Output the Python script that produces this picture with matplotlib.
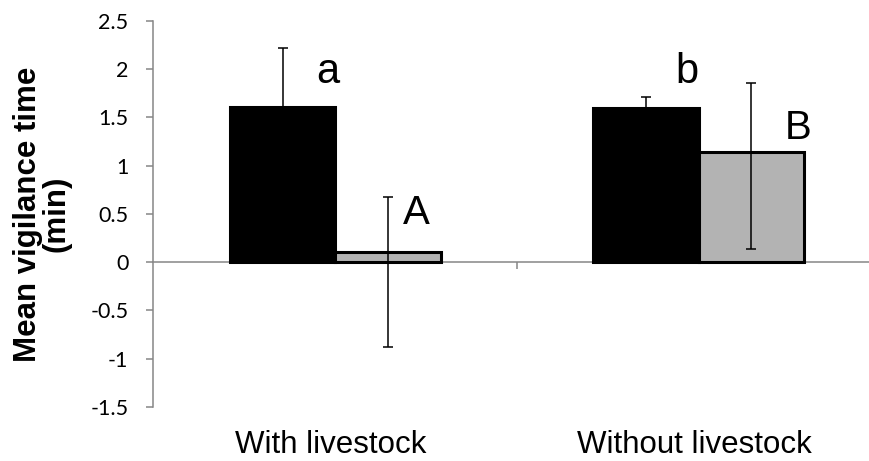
import matplotlib
matplotlib.use('Agg')
import matplotlib.pyplot as plt
import numpy as np
from matplotlib.transforms import blended_transform_factory

# ---- data ----
categories = ['With livestock', 'Without livestock']
black_vals = [1.61, 1.60]
black_err = [0.61, 0.11]
gray_vals = [0.11, 1.14]
gray_err_low = [0.99, 1.00]
gray_err_up = [0.56, 0.72]
letters_black = ['a', 'b']
letters_gray = ['A', 'B']
yticks = [-1.5, -1, -0.5, 0, 0.5, 1, 1.5, 2, 2.5]
ytick_labels = ['-1.5', '-1', '-0.5', '0', '0.5', '1', '1.5', '2', '2.5']
ylabel = 'Mean vigilance time\n(min)'

# ---- layout ----
W, H = 870, 461
fig = plt.figure(figsize=(W / 100, H / 100), dpi=100)
ax = fig.add_axes([153.5 / W, (H - 407) / H, (W - 153.5) / W, (407 - 20.7) / H])

axis_gray = '#868686'
bar_w = 0.29
x = np.arange(len(categories))

ax.bar(x - bar_w / 2, black_vals, width=bar_w, color='black', edgecolor='black',
       linewidth=2.2, zorder=2)
ax.bar(x + bar_w / 2, gray_vals, width=bar_w, color='#b3b3b3', edgecolor='black',
       linewidth=2.2, zorder=2)
ax.errorbar(x - bar_w / 2, black_vals, yerr=[black_err, black_err], fmt='none',
            ecolor='black', elinewidth=1.1, capsize=3.8, capthick=1.1, zorder=3)
ax.errorbar(x + bar_w / 2, gray_vals, yerr=[gray_err_low, gray_err_up], fmt='none',
            ecolor='black', elinewidth=1.1, capsize=3.8, capthick=1.1, zorder=3)

# significance letters (offsets relative to category centre)
black_letter_pos = [(-0.052, 1.853), (-0.065, 1.86)]
gray_letter_pos = [(0.187, 0.39), (0.238, 1.275)]
for i in range(len(categories)):
    dx, y = black_letter_pos[i]
    ax.text(x[i] + dx, y, letters_black[i], fontsize=30, family='Liberation Sans',
            ha='left', va='baseline', zorder=4)
    dx, y = gray_letter_pos[i]
    ax.text(x[i] + dx, y, letters_gray[i], fontsize=29, family='Liberation Sans',
            ha='left', va='baseline', zorder=4)

ax.set_xlim(-0.501, 1.472)
ax.set_ylim(-1.5, 2.5)

for s in ['top', 'right']:
    ax.spines[s].set_visible(False)
ax.spines['left'].set_color(axis_gray)
ax.spines['left'].set_linewidth(1.1)
ax.spines['bottom'].set_position(('data', 0))
ax.spines['bottom'].set_color(axis_gray)
ax.spines['bottom'].set_linewidth(1.1)
ax.spines['bottom'].set_zorder(1)

ax.set_yticks(yticks)
ax.set_yticklabels(ytick_labels, fontfamily='Lato', fontsize=15.5)
ax.tick_params(axis='y', length=5, width=1.1, color=axis_gray, pad=13, direction='out')
ax.set_xticks([0.5])
ax.set_xticklabels([''])
ax.tick_params(axis='x', length=5, width=1.1, color=axis_gray, direction='out')

trans = blended_transform_factory(ax.transData, fig.transFigure)
for i, c in enumerate(categories):
    ax.text(x[i] - 0.012, (H - 453) / H, c, transform=trans, ha='center', va='baseline',
            fontsize=22.5, family='Liberation Sans')

fig.text(42 / W, (H - 214) / H, ylabel, rotation=90, ha='center', va='center',
         fontsize=22.5, fontweight='bold', family='Liberation Sans',
         multialignment='center', linespacing=0.95)

fig.savefig('out.png', dpi=100)
